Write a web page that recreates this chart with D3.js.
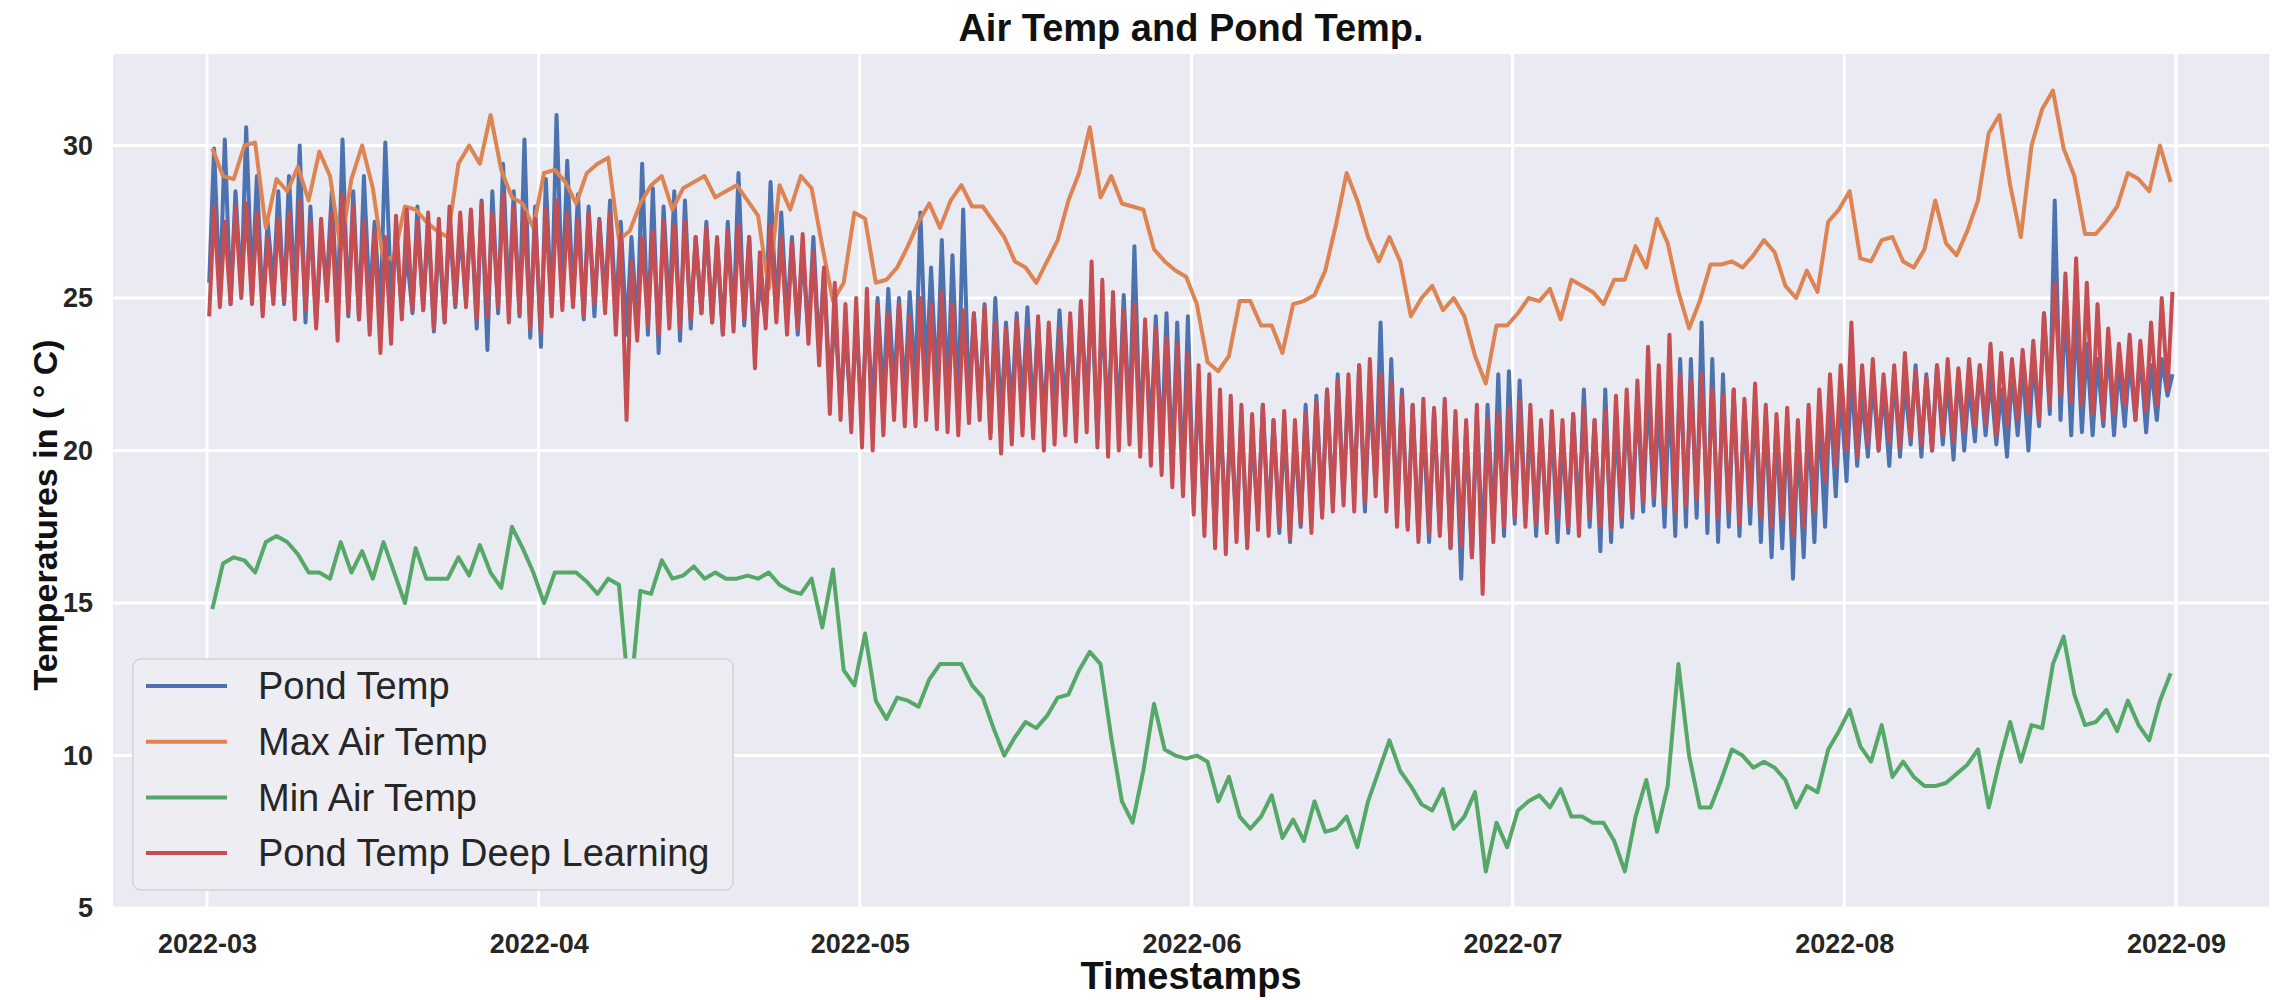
<!DOCTYPE html>
<html>
<head>
<meta charset="utf-8">
<script src="https://cdn.jsdelivr.net/npm/d3@7"></script>
<style>
  body { margin: 0; background: #fff; }
  text { font-family: "Liberation Sans", Arial, sans-serif; }
</style>
</head>
<body>
<svg width="2272" height="1000"></svg>
<script>
// ---- data ----
const startDay = "2022-03-01";
const seriesNames = ["Pond Temp", "Max Air Temp", "Min Air Temp", "Pond Temp Deep Learning"];
const seriesColors = ["#4C72B0", "#DD8452", "#55A868", "#C44E52"];
const yTicks = [5, 10, 15, 20, 25, 30];
const xTicks = ["2022-03", "2022-04", "2022-05", "2022-06", "2022-07", "2022-08", "2022-09"];

// one value per day, 2022-03-01 .. 2022-08-31
const maxAir = [29.9,29.0,28.9,30.0,30.1,27.3,28.9,28.5,29.3,28.2,
  29.8,29.0,26.6,28.9,30.0,28.6,26.2,26.4,28.0,27.9,
  27.5,27.2,27.0,29.4,30.0,29.4,31.0,29.2,28.3,28.1,
  27.3,29.1,29.2,28.8,28.1,29.1,29.4,29.6,26.9,27.2,
  28.1,28.7,29.0,27.9,28.6,28.8,29.0,28.3,28.5,28.7,
  28.2,27.7,25.3,28.7,27.9,29.0,28.6,26.7,24.9,25.5,
  27.8,27.6,25.5,25.6,26.0,26.7,27.5,28.1,27.3,28.2,
  28.7,28.0,28.0,27.5,27.0,26.2,26.0,25.5,26.2,26.9,
  28.2,29.1,30.6,28.3,29.0,28.1,28.0,27.9,26.6,26.2,
  25.9,25.7,24.8,22.9,22.6,23.1,24.9,24.9,24.1,24.1,
  23.2,24.8,24.9,25.1,25.9,27.4,29.1,28.2,27.0,26.2,
  27.0,26.2,24.4,25.0,25.4,24.6,25.0,24.4,23.1,22.2,
  24.1,24.1,24.5,25.0,24.9,25.3,24.3,25.6,25.4,25.2,
  24.8,25.6,25.6,26.7,26.0,27.6,26.8,25.2,24.0,24.9,
  26.1,26.1,26.2,26.0,26.4,26.9,26.5,25.4,25.0,25.9,
  25.2,27.5,27.9,28.5,26.3,26.2,26.9,27.0,26.2,26.0,
  26.6,28.2,26.8,26.4,27.2,28.2,30.4,31.0,28.7,27.0,
  30.0,31.2,31.8,29.9,29.0,27.1,27.1,27.5,28.0,29.1,
  28.9,28.5,30.0,28.8];

const minAir = [14.8,16.3,16.5,16.4,16.0,17.0,17.2,17.0,16.6,16.0,
  16.0,15.8,17.0,16.0,16.7,15.8,17.0,16.0,15.0,16.8,
  15.8,15.8,15.8,16.5,15.9,16.9,16.0,15.5,17.5,16.8,
  16.0,15.0,16.0,16.0,16.0,15.7,15.3,15.8,15.6,11.7,
  15.4,15.3,16.4,15.8,15.9,16.2,15.8,16.0,15.8,15.8,
  15.9,15.8,16.0,15.6,15.4,15.3,15.8,14.2,16.1,12.8,
  12.3,14.0,11.8,11.2,11.9,11.8,11.6,12.5,13.0,13.0,
  13.0,12.3,11.9,10.9,10.0,10.6,11.1,10.9,11.3,11.9,
  12.0,12.8,13.4,13.0,10.6,8.5,7.8,9.5,11.7,10.2,
  10.0,9.9,10.0,9.8,8.5,9.3,8.0,7.6,8.0,8.7,
  7.3,7.9,7.2,8.5,7.5,7.6,8.0,7.0,8.5,9.5,
  10.5,9.5,9.0,8.4,8.2,8.9,7.6,8.0,8.8,6.2,
  7.8,7.0,8.2,8.5,8.7,8.3,8.9,8.0,8.0,7.8,
  7.8,7.2,6.2,8.0,9.2,7.5,9.0,13.0,10.0,8.3,
  8.3,9.2,10.2,10.0,9.6,9.8,9.6,9.2,8.3,9.0,
  8.8,10.2,10.8,11.5,10.3,9.8,11.0,9.3,9.8,9.3,
  9.0,9.0,9.1,9.4,9.7,10.2,8.3,9.8,11.1,9.8,
  11.0,10.9,13.0,13.9,12.0,11.0,11.1,11.5,10.8,11.8,
  11.0,10.5,11.8,12.7];

// pond temperatures swing every day: daily highs and lows
const pondHigh = [29.9,30.2,28.5,30.6,29.0,27.5,28.5,29.0,30.0,28.0,
  27.0,28.5,30.2,28.5,29.0,27.5,30.1,27.0,26.5,28.0,
  27.5,27.0,27.5,27.2,27.8,28.2,28.5,29.4,28.5,30.2,
  28.0,28.9,31.0,29.5,28.4,28.0,27.6,28.2,27.5,27.0,
  29.4,28.6,28.0,28.5,28.2,27.0,27.5,26.8,27.5,29.1,
  27.0,25.5,28.8,27.8,27.0,26.5,27.0,26.0,24.5,24.0,
  24.2,24.5,25.0,25.3,25.0,25.2,27.8,26.0,26.9,26.4,
  27.9,24.5,24.8,25.0,24.2,24.5,24.7,24.2,24.0,24.6,
  24.3,24.8,25.0,24.5,24.8,25.1,26.7,24.0,24.4,24.5,
  24.2,24.4,22.3,21.5,21.0,20.8,21.2,20.5,21.5,21.0,
  20.8,20.5,21.5,21.8,22.0,22.5,22.2,22.8,22.0,24.2,
  23.0,22.0,21.5,21.0,21.3,21.5,21.0,20.8,21.2,21.5,
  22.5,22.6,22.3,21.0,20.8,21.0,20.5,21.2,22.0,21.0,
  22.0,21.0,21.5,21.8,22.0,21.5,22.0,23.0,23.0,24.2,
  23.0,22.5,22.0,21.5,21.8,21.2,20.8,21.0,20.5,21.0,
  21.2,21.8,22.0,22.5,21.8,22.3,22.0,22.5,22.2,22.8,
  22.5,22.8,22.3,22.6,22.2,22.8,22.4,22.0,22.5,22.8,
  23.0,24.5,28.2,24.8,24.5,23.5,23.0,23.5,22.8,23.0,
  23.2,22.8,23.0,22.5];

const pondLow = [25.5,25.0,24.8,25.2,25.3,24.6,25.4,24.8,25.0,24.2,
  24.2,25.5,24.5,24.4,24.3,24.8,24.5,25.0,24.6,24.5,
  24.6,23.9,24.2,24.7,24.9,24.0,23.3,24.5,24.8,24.4,
  23.7,23.4,24.5,25.0,24.9,24.3,24.4,24.9,24.5,23.8,
  24.0,23.8,23.2,24.5,23.6,24.0,24.5,24.2,23.8,24.2,
  24.1,23.5,24.3,24.5,24.3,23.8,23.8,23.2,22.0,21.5,
  21.0,21.1,21.5,21.7,22.0,21.8,22.2,22.5,22.0,21.8,
  21.4,21.6,21.5,20.6,21.0,21.3,21.5,21.2,21.0,21.4,
  21.2,21.0,21.6,20.4,21.0,21.0,20.8,20.5,20.6,20.0,
  19.5,19.0,18.2,17.5,17.2,17.8,17.5,17.0,17.8,17.6,
  17.3,17.0,17.5,17.8,18.0,18.2,18.5,18.5,18.0,18.8,
  18.2,17.8,17.5,17.2,17.0,17.3,16.8,15.8,16.5,16.8,
  17.5,17.2,17.6,17.8,17.2,17.5,17.0,17.3,17.8,17.5,
  16.7,17.0,17.5,17.8,18.0,18.2,17.5,17.2,17.5,17.8,
  17.3,17.0,17.5,17.2,17.6,17.0,16.5,16.8,15.8,16.5,
  17.0,17.5,18.5,19.0,19.5,19.8,20.0,19.5,19.8,20.2,
  19.8,20.0,20.2,19.7,20.0,20.3,20.5,20.2,19.8,20.5,
  20.0,20.8,21.2,21.0,20.5,20.6,20.5,20.8,20.5,20.8,
  21.0,20.6,21.0,21.8];

const deepHigh = [28.0,27.5,28.0,28.1,27.8,27.0,27.6,27.8,28.2,27.5,
  27.6,27.8,28.4,28.0,27.5,27.2,27.0,27.7,27.9,27.5,
  27.8,27.6,28.0,27.8,27.9,28.1,27.8,28.4,28.0,27.8,
  27.6,27.9,28.2,27.8,27.6,27.8,27.5,27.8,27.1,26.2,
  27.0,27.2,27.5,27.4,27.5,27.0,27.3,27.0,27.2,27.4,
  27.0,26.5,27.4,27.0,26.8,27.1,26.5,26.0,25.5,24.8,
  25.0,25.3,24.8,24.5,24.8,24.4,25.0,24.8,25.2,24.8,
  24.6,24.5,24.7,24.2,24.0,24.3,24.0,24.4,24.2,24.0,
  24.5,24.9,26.2,25.6,25.2,24.6,24.8,24.3,24.0,23.7,
  23.5,23.2,22.8,22.5,22.0,21.8,21.5,21.2,21.5,21.0,
  21.3,21.0,21.2,21.6,22.0,22.3,22.5,22.8,23.0,22.5,
  22.2,21.8,21.5,21.7,21.4,21.7,21.3,21.0,21.5,21.0,
  21.2,21.4,21.6,21.5,21.0,21.3,21.0,21.2,21.4,21.0,
  21.3,21.8,22.0,22.3,23.4,22.8,23.8,22.5,22.3,22.5,
  22.0,21.8,22.0,21.7,22.2,21.5,21.2,21.4,21.0,21.5,
  22.0,22.5,22.8,24.2,22.8,23.0,22.5,22.8,23.2,22.6,
  22.4,22.8,23.0,22.7,23.0,22.8,23.5,23.2,23.0,23.3,
  23.6,24.5,25.5,25.8,26.3,25.5,24.8,24.0,23.5,23.8,
  23.6,24.2,25.0,25.2];

const deepLow = [24.4,24.7,24.8,25.0,24.8,24.4,24.8,24.9,24.3,24.6,
  24.0,24.9,23.6,24.5,24.3,23.8,23.2,23.5,24.3,24.6,
  24.6,24.0,24.2,24.8,24.7,24.3,24.4,24.7,24.2,24.5,
  24.0,23.9,24.4,24.6,24.7,24.4,24.8,24.5,23.8,21.0,
  23.6,24.1,23.8,24.0,24.0,24.3,24.5,24.2,23.8,23.9,
  24.3,22.7,24.0,24.2,23.8,24.0,23.5,22.8,21.2,21.0,
  20.6,20.1,20.0,20.5,21.0,20.8,20.8,21.0,20.7,20.6,
  20.5,20.9,21.0,20.4,19.9,20.2,20.5,20.4,20.0,20.2,
  20.5,20.3,20.6,20.1,19.8,20.0,20.2,19.8,19.5,19.2,
  18.8,18.5,17.9,17.2,16.8,16.6,17.0,16.8,17.4,17.2,
  17.5,17.1,17.6,17.3,17.8,18.0,18.2,18.0,18.3,18.5,
  18.0,17.5,17.4,17.0,17.3,17.2,16.8,16.9,16.5,15.3,
  17.0,17.5,17.8,17.5,17.6,17.3,17.8,17.5,17.2,17.8,
  17.5,17.4,17.8,18.0,18.3,18.5,18.2,18.0,18.2,18.4,
  18.0,17.8,18.0,17.6,18.2,17.8,17.5,17.8,17.2,17.5,
  18.0,19.0,19.5,20.0,19.8,20.2,20.0,20.3,20.1,20.4,
  20.2,20.0,20.5,20.3,20.6,20.8,20.9,20.5,20.8,21.0,
  21.2,21.0,21.5,21.8,21.6,21.5,21.2,21.0,21.2,21.5,
  21.0,21.3,21.5,22.0];

// ---- layout ----
const svg = d3.select("svg");
const margin = {top: 54, right: 3, bottom: 91, left: 113};
const width = +svg.attr("width") - margin.left - margin.right;
const height = +svg.attr("height") - margin.top - margin.bottom;
const g = svg.append("g").attr("transform", "translate(" + margin.left + "," + margin.top + ")");

const parseDay = d3.utcParse("%Y-%m-%d");
const parseMonth = d3.utcParse("%Y-%m");
const t0 = parseDay(startDay);
const hour = 3600e3;
const at = (d, h) => new Date(t0.getTime() + (d * 24 + h) * hour);

const x = d3.scaleUtc()
  .domain([at(-8.78, 0), at(184 + 8.69, 0)])
  .range([0, width]);
const y = d3.scaleLinear()
  .domain([4.97, 33.0])
  .range([height, 0]);

// background + grid
g.append("rect").attr("width", width).attr("height", height).attr("fill", "#EAEAF2");
const tickDates = xTicks.map(parseMonth);
g.append("g").selectAll("line").data(yTicks).join("line")
  .attr("x1", 0).attr("x2", width)
  .attr("y1", d => y(d)).attr("y2", d => y(d))
  .attr("stroke", "#fff").attr("stroke-width", 3);
g.append("g").selectAll("line").data(tickDates).join("line")
  .attr("y1", 0).attr("y2", height)
  .attr("x1", d => x(d)).attr("x2", d => x(d))
  .attr("stroke", "#fff").attr("stroke-width", 3);

// axes
const xAxis = g.append("g")
  .attr("transform", "translate(0," + height + ")")
  .call(d3.axisBottom(x).tickValues(tickDates).tickFormat(d3.utcFormat("%Y-%m")).tickSize(0).tickPadding(25));
const yAxis = g.append("g")
  .call(d3.axisLeft(y).tickValues(yTicks).tickSize(0).tickPadding(20));
[xAxis, yAxis].forEach(a => {
  a.select(".domain").remove();
  a.selectAll("text")
    .attr("font-family", "Liberation Sans, Arial, sans-serif")
    .attr("font-size", 27).attr("font-weight", "bold").attr("fill", "#262626");
});

// series
const daily = vals => vals.map((v, i) => ({t: at(i, 12), v: v}));
const swing = (lo, hi) => lo.flatMap((l, i) => [{t: at(i, 5), v: l}, {t: at(i, 16), v: hi[i]}]);
const seriesData = [swing(pondLow, pondHigh), daily(maxAir), daily(minAir), swing(deepLow, deepHigh)];

const line = d3.line().x(d => x(d.t)).y(d => y(d.v));
svg.append("clipPath").attr("id", "plotclip")
  .append("rect").attr("width", width).attr("height", height);
g.append("g").attr("clip-path", "url(#plotclip)")
  .selectAll("path").data(seriesData).join("path")
  .attr("fill", "none")
  .attr("stroke", (d, i) => seriesColors[i])
  .attr("stroke-width", 4)
  .attr("stroke-linejoin", "round")
  .attr("d", line);

// legend
const lg = g.append("g").attr("transform", "translate(20,605)");
lg.append("rect")
  .attr("width", 600).attr("height", 231).attr("rx", 8)
  .attr("fill", "#EDEDF3").attr("stroke", "#D2D2DA").attr("stroke-width", 1.5);
const item = lg.selectAll("g.item").data(seriesNames).join("g")
  .attr("class", "item")
  .attr("transform", (d, i) => "translate(0," + (27 + i * 55.7) + ")");
item.append("line")
  .attr("x1", 13).attr("x2", 94)
  .attr("stroke", (d, i) => seriesColors[i]).attr("stroke-width", 4);
item.append("text")
  .attr("x", 125).attr("dy", "0.35em")
  .attr("font-size", 38).attr("fill", "#262626")
  .text(d => d);

// titles
g.append("text")
  .attr("x", width / 2).attr("y", -13)
  .attr("text-anchor", "middle")
  .attr("font-size", 38).attr("font-weight", "bold").attr("fill", "#111")
  .text("Air Temp and Pond Temp.");
g.append("text")
  .attr("x", width / 2).attr("y", height + 80)
  .attr("text-anchor", "middle")
  .attr("font-size", 38).attr("font-weight", "bold").attr("fill", "#111")
  .text("Timestamps");
g.append("text")
  .attr("transform", "translate(" + (-68) + "," + (515 - margin.top) + ") rotate(-90)")
  .attr("text-anchor", "middle").attr("dy", "0.35em")
  .attr("font-size", 34).attr("font-weight", "bold").attr("fill", "#111")
  .text("Temperatures in ( \u00B0 C)");
</script>
</body>
</html>
